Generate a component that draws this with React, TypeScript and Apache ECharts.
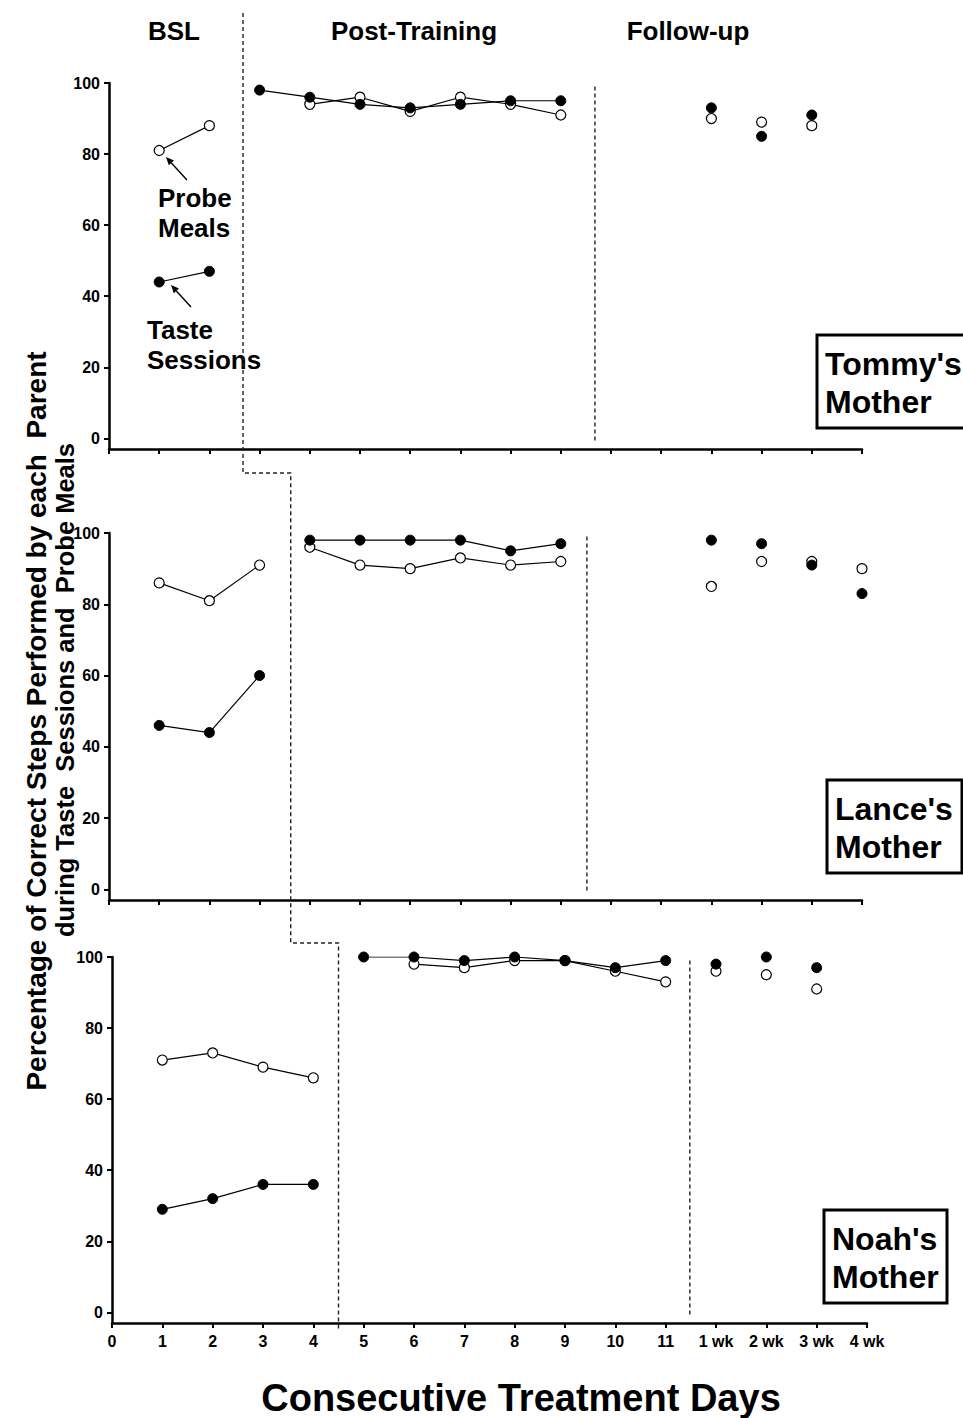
import React, { useEffect, useRef } from "react";
import * as echarts from "echarts";

const FONT = "'Liberation Sans', Arial, Helvetica, sans-serif";

// Day axis: 0..11 treatment days, then follow-up weeks
const xTickLabels = ["0", "1", "2", "3", "4", "5", "6", "7", "8", "9", "10", "11", "1 wk", "2 wk", "3 wk", "4 wk"];
const yTickValues = [0, 20, 40, 60, 80, 100];

// Tommy's mother
const tommyBslDays = [1, 2];
const tommyBslProbe = [81, 88];
const tommyBslTaste = [44, 47];
const tommyTxDays = [3, 4, 5, 6, 7, 8, 9];
const tommyTxProbe = [null, 94, 96, 92, 96, 94, 91];
const tommyTxTaste = [98, 96, 94, 93, 94, 95, 95];
const tommyFuDays = [12, 13, 14];
const tommyFuProbe = [90, 89, 88];
const tommyFuTaste = [93, 85, 91];

// Lance's mother
const lanceBslDays = [1, 2, 3];
const lanceBslProbe = [86, 81, 91];
const lanceBslTaste = [46, 44, 60];
const lanceTxDays = [4, 5, 6, 7, 8, 9];
const lanceTxProbe = [96, 91, 90, 93, 91, 92];
const lanceTxTaste = [98, 98, 98, 98, 95, 97];
const lanceFuDays = [12, 13, 14, 15];
const lanceFuProbe = [85, 92, 92, 90];
const lanceFuTaste = [98, 97, 91, 83];

// Noah's mother
const noahBslDays = [1, 2, 3, 4];
const noahBslProbe = [71, 73, 69, 66];
const noahBslTaste = [29, 32, 36, 36];
const noahTxDays = [5, 6, 7, 8, 9, 10, 11];
const noahTxProbe = [null, 98, 97, 99, 99, 96, 93];
const noahTxTaste = [100, 100, 99, 100, 99, 97, 99];
const noahFuDays = [12, 13, 14];
const noahFuProbe = [96, 95, 91];
const noahFuTaste = [98, 100, 97];

// Phase-change positions (in day units) for each panel
const txStart = [2.67, 3.62, 4.5];
const fuStart = [9.68, 9.52, 11.48];

const panelNames = ["Tommy's\nMother", "Lance's\nMother", "Noah's\nMother"];

const panels = [
  {
    bsl: [tommyBslDays, tommyBslProbe, tommyBslTaste],
    tx: [tommyTxDays, tommyTxProbe, tommyTxTaste],
    fu: [tommyFuDays, tommyFuProbe, tommyFuTaste],
  },
  {
    bsl: [lanceBslDays, lanceBslProbe, lanceBslTaste],
    tx: [lanceTxDays, lanceTxProbe, lanceTxTaste],
    fu: [lanceFuDays, lanceFuProbe, lanceFuTaste],
  },
  {
    bsl: [noahBslDays, noahBslProbe, noahBslTaste],
    tx: [noahTxDays, noahTxProbe, noahTxTaste],
    fu: [noahFuDays, noahFuProbe, noahFuTaste],
  },
];

const grids = [
  { left: 109, top: 83, width: 753, height: 366 },
  { left: 109, top: 533, width: 753, height: 367 },
  { left: 112, top: 957, width: 755, height: 366 },
];

const pairs = (xs: number[], ys: (number | null)[]) => xs.map((x, i) => [x, ys[i]]);

const openStyle = { color: "#fff", borderColor: "#000", borderWidth: 1.2, opacity: 1 };
const filledStyle = { color: "#000", borderColor: "#000", borderWidth: 1, opacity: 1 };

function buildSeries() {
  const series: any[] = [];
  panels.forEach((p, g) => {
    const common = { xAxisIndex: g, yAxisIndex: g, symbol: "circle", symbolSize: 10 };
    // open circles = probe meals, drawn beneath the filled taste-session markers
    for (const seg of [p.bsl, p.tx]) {
      series.push({
        ...common,
        type: "line",
        z: 2,
        showAllSymbol: true,
        connectNulls: false,
        data: pairs(seg[0] as number[], seg[1] as (number | null)[]),
        lineStyle: { color: "#000", width: 1.2 },
        itemStyle: openStyle,
      });
    }
    series.push({
      ...common,
      type: "scatter",
      z: 2,
      data: pairs(p.fu[0] as number[], p.fu[1] as number[]),
      itemStyle: openStyle,
    });
    for (const seg of [p.bsl, p.tx]) {
      series.push({
        ...common,
        type: "line",
        z: 3,
        showAllSymbol: true,
        connectNulls: false,
        data: pairs(seg[0] as number[], seg[2] as (number | null)[]),
        lineStyle: { color: "#000", width: 1.2 },
        itemStyle: filledStyle,
      });
    }
    series.push({
      ...common,
      type: "scatter",
      z: 3,
      data: pairs(p.fu[0] as number[], p.fu[2] as number[]),
      itemStyle: filledStyle,
    });
  });
  return series;
}

export default function App() {
  const ref = useRef<HTMLDivElement>(null);

  useEffect(() => {
    document.body.style.margin = "0";
    if (!ref.current) return;
    const chart = echarts.init(ref.current, undefined, { renderer: "svg" });

    const xAxes = grids.map((_, g) => ({
      type: "value",
      gridIndex: g,
      min: 0,
      max: 15,
      interval: 1,
      splitLine: { show: false },
      axisLine: { show: true, onZero: false, lineStyle: { color: "#000", width: 2.5 } },
      axisTick: { show: true, length: 5, lineStyle: { color: "#000", width: 2 } },
      axisLabel: {
        show: g === 2,
        margin: 10,
        color: "#000",
        fontFamily: FONT,
        fontWeight: "bold",
        fontSize: 16,
        formatter: (v: number) => xTickLabels[v] ?? "",
      },
    }));

    const yAxes = grids.map((_, g) => ({
      type: "value",
      gridIndex: g,
      min: -3,
      max: 100,
      splitLine: { show: false },
      axisLine: { show: true, onZero: false, lineStyle: { color: "#000", width: 2.5 } },
      axisTick: { show: true, length: 5, customValues: yTickValues, lineStyle: { color: "#000", width: 2 } },
      axisLabel: {
        show: true,
        margin: 9,
        customValues: yTickValues,
        color: "#000",
        fontFamily: FONT,
        fontWeight: "bold",
        fontSize: 16,
      },
    }));

    chart.setOption({
      animation: false,
      backgroundColor: "#fff",
      grid: grids,
      xAxis: xAxes,
      yAxis: yAxes,
      series: buildSeries(),
    });

    const px = (g: number, x: number, y: number) =>
      chart.convertToPixel({ xAxisIndex: g, yAxisIndex: g }, [x, y]) as number[];

    const dash = { stroke: "#222", lineWidth: 1.4, lineDash: [4, 3], fill: null };

    // Stepped phase-change line running through all three panels
    const topX = px(0, txStart[0], 0)[0];
    const midX = px(1, txStart[1], 0)[0];
    const botX = px(2, txStart[2], 0)[0];
    const gap1 = grids[0].top + grids[0].height + 24;
    const gap2 = grids[1].top + grids[1].height + 43;
    const botEnd = grids[2].top + grids[2].height + 7;
    const graphic: any[] = [
      {
        type: "polyline",
        z: 1,
        shape: {
          points: [
            [topX, 13],
            [topX, gap1],
            [midX, gap1],
            [midX, gap2],
            [botX, gap2],
            [botX, botEnd],
          ],
        },
        style: dash,
      },
    ];

    // Follow-up phase lines
    grids.forEach((_, g) => {
      const a = px(g, fuStart[g], 99);
      const b = px(g, fuStart[g], -1);
      graphic.push({
        type: "line",
        z: 1,
        shape: { x1: a[0], y1: a[1], x2: b[0], y2: b[1] },
        style: dash,
      });
    });

    // Phase headings
    const headStyle = { fill: "#000", font: `bold 26px ${FONT}`, textAlign: "center", textVerticalAlign: "middle" };
    graphic.push({ type: "text", x: 174, y: 31, style: { ...headStyle, text: "BSL" } });
    graphic.push({ type: "text", x: 414, y: 31, style: { ...headStyle, text: "Post-Training" } });
    graphic.push({ type: "text", x: 688, y: 31, style: { ...headStyle, text: "Follow-up" } });

    // Participant boxes
    const boxes = [
      { x: 817, y: 335, w: 150, h: 93 },
      { x: 827, y: 780, w: 135, h: 93 },
      { x: 824, y: 1210, w: 123, h: 93 },
    ];
    boxes.forEach((b, i) => {
      graphic.push({
        type: "rect",
        z: 5,
        shape: { x: b.x, y: b.y, width: b.w, height: b.h },
        style: { fill: "#fff", stroke: "#000", lineWidth: 3 },
      });
      graphic.push({
        type: "text",
        z: 6,
        x: b.x + 8,
        y: b.y + b.h / 2 + 1,
        style: {
          text: panelNames[i],
          fill: "#000",
          font: `bold 32px ${FONT}`,
          lineHeight: 38,
          textAlign: "left",
          textVerticalAlign: "middle",
        },
      });
    });

    // Series annotations with arrows
    const noteStyle = { fill: "#000", font: `bold 26px ${FONT}`, lineHeight: 30, textAlign: "left", textVerticalAlign: "middle" };
    graphic.push({ type: "text", x: 158, y: 213, style: { ...noteStyle, text: "Probe\nMeals" } });
    graphic.push({ type: "text", x: 147, y: 345, style: { ...noteStyle, text: "Taste\nSessions" } });
    const arrow = (x1: number, y1: number, x2: number, y2: number) => {
      const ang = Math.atan2(y2 - y1, x2 - x1);
      const len = 8;
      const wid = 3.5;
      const bx = x2 - len * Math.cos(ang);
      const by = y2 - len * Math.sin(ang);
      graphic.push({
        type: "line",
        shape: { x1, y1, x2: bx, y2: by },
        style: { stroke: "#000", lineWidth: 1.4 },
      });
      graphic.push({
        type: "polygon",
        shape: {
          points: [
            [x2, y2],
            [bx + wid * Math.sin(ang), by - wid * Math.cos(ang)],
            [bx - wid * Math.sin(ang), by + wid * Math.cos(ang)],
          ],
        },
        style: { fill: "#000" },
      });
    };
    arrow(187, 180, 166, 157);
    arrow(191, 307, 171, 285);

    // Axis titles
    const yTitleStyle = {
      fill: "#000",
      textAlign: "center",
      textVerticalAlign: "middle",
    };
    graphic.push({
      type: "text",
      x: 36,
      y: 721,
      rotation: Math.PI / 2,
      style: { ...yTitleStyle, font: `bold 28px ${FONT}`, text: "Percentage of Correct Steps Performed by each  Parent" },
    });
    graphic.push({
      type: "text",
      x: 65,
      y: 690,
      rotation: Math.PI / 2,
      style: { ...yTitleStyle, font: `bold 25.5px ${FONT}`, text: "during Taste  Sessions and  Probe Meals" },
    });
    graphic.push({
      type: "text",
      x: 521,
      y: 1398,
      style: {
        text: "Consecutive Treatment Days",
        fill: "#000",
        font: `bold 38px ${FONT}`,
        textAlign: "center",
        textVerticalAlign: "middle",
      },
    });

    chart.setOption({ graphic });

    return () => chart.dispose();
  }, []);

  return <div ref={ref} style={{ width: 963, height: 1418 }} />;
}
